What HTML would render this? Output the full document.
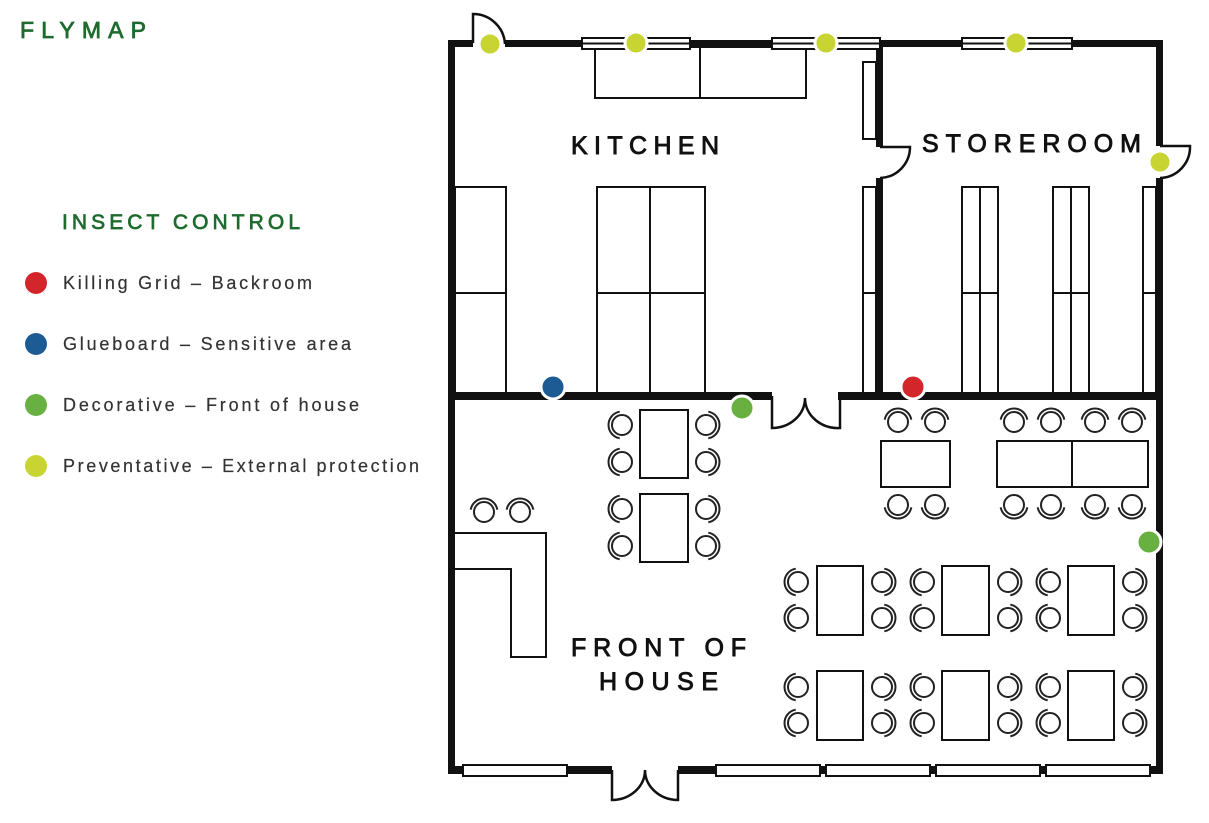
<!DOCTYPE html>
<html><head><meta charset="utf-8"><style>
html,body{margin:0;padding:0;background:#fff;}
svg{display:block;font-family:"Liberation Sans",sans-serif;}
</style></head><body>
<svg width="1209" height="823" viewBox="0 0 1209 823" xmlns="http://www.w3.org/2000/svg">
<defs>
<g id="ch"><circle r="10" fill="#fff" stroke="#222" stroke-width="2"/><path d="M -2.3 -13.3 A 13.5 13.5 0 0 0 -2.3 13.3" fill="none" stroke="#222" stroke-width="2"/></g>
</defs>
<rect width="1209" height="823" fill="#fff"/>
<!-- legend -->
<text x="20" y="38" font-size="23" fill="#1e6b2e" stroke="#1e6b2e" stroke-width="0.8" textLength="126" lengthAdjust="spacing">FLYMAP</text>
<text x="62" y="229" font-size="21" fill="#1e6b2e" stroke="#1e6b2e" stroke-width="0.7" textLength="238" lengthAdjust="spacing">INSECT CONTROL</text>
<g font-size="18" fill="#333" stroke="#333" stroke-width="0.2">
<circle cx="36" cy="283" r="11" fill="#d3262b" stroke="none"/><text x="63" y="289" textLength="249" lengthAdjust="spacing">Killing Grid – Backroom</text>
<circle cx="36" cy="344" r="11" fill="#1c5b94" stroke="none"/><text x="63" y="350" textLength="288" lengthAdjust="spacing">Glueboard – Sensitive area</text>
<circle cx="36" cy="405" r="11" fill="#69b043" stroke="none"/><text x="63" y="411" textLength="296" lengthAdjust="spacing">Decorative – Front of house</text>
<circle cx="36" cy="466" r="11" fill="#c7d431" stroke="none"/><text x="63" y="472" textLength="356" lengthAdjust="spacing">Preventative – External protection</text>
</g>
<g fill="none" stroke="#111" stroke-width="2">
<rect x="595" y="47" width="211" height="51"/><line x1="700" y1="47" x2="700" y2="98"/>
<rect x="455" y="187" width="51" height="206"/><line x1="455" y1="293" x2="506" y2="293"/>
<rect x="597" y="187" width="108" height="206"/><line x1="650" y1="187" x2="650" y2="393"/><line x1="597" y1="293" x2="705" y2="293"/>
<rect x="863" y="62" width="13" height="77"/>
<rect x="863" y="187" width="13" height="206"/><line x1="863" y1="293" x2="876" y2="293"/>
<rect x="962" y="187" width="36" height="206"/><line x1="980" y1="187" x2="980" y2="393"/><line x1="962" y1="293" x2="998" y2="293"/>
<rect x="1053" y="187" width="36" height="206"/><line x1="1071" y1="187" x2="1071" y2="393"/><line x1="1053" y1="293" x2="1089" y2="293"/>
<rect x="1143" y="187" width="13" height="206"/><line x1="1143" y1="293" x2="1156" y2="293"/>
<polyline points="455,533 546,533 546,657 511,657 511,569 455,569"/>
<rect x="640" y="410" width="48" height="68"/><rect x="640" y="494" width="48" height="68"/>
<rect x="881" y="441" width="69" height="46"/>
<rect x="997" y="441" width="151" height="46"/><line x1="1072" y1="441" x2="1072" y2="487"/>
<rect x="817" y="566" width="46" height="69"/><rect x="942" y="566" width="47" height="69"/><rect x="1068" y="566" width="46" height="69"/>
<rect x="817" y="671" width="46" height="69"/><rect x="942" y="671" width="47" height="69"/><rect x="1068" y="671" width="46" height="69"/>
</g>
<g>
<use href="#ch" transform="translate(484,512) rotate(90)"/><use href="#ch" transform="translate(520,512) rotate(90)"/>
<use href="#ch" transform="translate(622,425)"/><use href="#ch" transform="translate(622,462)"/><use href="#ch" transform="translate(622,509)"/><use href="#ch" transform="translate(622,546)"/>
<use href="#ch" transform="translate(706,425) rotate(180)"/><use href="#ch" transform="translate(706,462) rotate(180)"/><use href="#ch" transform="translate(706,509) rotate(180)"/><use href="#ch" transform="translate(706,546) rotate(180)"/>
<use href="#ch" transform="translate(898,422) rotate(90)"/><use href="#ch" transform="translate(935,422) rotate(90)"/>
<use href="#ch" transform="translate(898,505) rotate(-90)"/><use href="#ch" transform="translate(935,505) rotate(-90)"/>
<use href="#ch" transform="translate(1014,422) rotate(90)"/><use href="#ch" transform="translate(1051,422) rotate(90)"/><use href="#ch" transform="translate(1095,422) rotate(90)"/><use href="#ch" transform="translate(1132,422) rotate(90)"/>
<use href="#ch" transform="translate(1014,505) rotate(-90)"/><use href="#ch" transform="translate(1051,505) rotate(-90)"/><use href="#ch" transform="translate(1095,505) rotate(-90)"/><use href="#ch" transform="translate(1132,505) rotate(-90)"/>
<use href="#ch" transform="translate(798,582)"/><use href="#ch" transform="translate(798,618)"/><use href="#ch" transform="translate(798,687)"/><use href="#ch" transform="translate(798,723)"/>
<use href="#ch" transform="translate(882,582) rotate(180)"/><use href="#ch" transform="translate(882,618) rotate(180)"/><use href="#ch" transform="translate(882,687) rotate(180)"/><use href="#ch" transform="translate(882,723) rotate(180)"/>
<use href="#ch" transform="translate(924,582)"/><use href="#ch" transform="translate(924,618)"/><use href="#ch" transform="translate(924,687)"/><use href="#ch" transform="translate(924,723)"/>
<use href="#ch" transform="translate(1008,582) rotate(180)"/><use href="#ch" transform="translate(1008,618) rotate(180)"/><use href="#ch" transform="translate(1008,687) rotate(180)"/><use href="#ch" transform="translate(1008,723) rotate(180)"/>
<use href="#ch" transform="translate(1050,582)"/><use href="#ch" transform="translate(1050,618)"/><use href="#ch" transform="translate(1050,687)"/><use href="#ch" transform="translate(1050,723)"/>
<use href="#ch" transform="translate(1133,582) rotate(180)"/><use href="#ch" transform="translate(1133,618) rotate(180)"/><use href="#ch" transform="translate(1133,687) rotate(180)"/><use href="#ch" transform="translate(1133,723) rotate(180)"/>
</g>
<g fill="#111">
<rect x="448" y="40" width="25" height="7"/>
<rect x="505" y="40" width="77" height="7"/>
<rect x="690" y="40" width="82" height="7"/>
<rect x="880" y="40" width="82" height="7"/>
<rect x="1072" y="40" width="91" height="7"/>
<rect x="448" y="40" width="7" height="734"/>
<rect x="1156" y="40" width="7" height="106"/>
<rect x="1156" y="178" width="7" height="596"/>
<rect x="876" y="40" width="7" height="107"/>
<rect x="876" y="178" width="7" height="222"/>
<rect x="448" y="392" width="324" height="8"/>
<rect x="838" y="392" width="325" height="8"/>
<rect x="448" y="766" width="15" height="8"/>
<rect x="567" y="766" width="45" height="8"/>
<rect x="678" y="766" width="38" height="8"/>
<rect x="820" y="766" width="6" height="8"/>
<rect x="930" y="766" width="6" height="8"/>
<rect x="1040" y="766" width="6" height="8"/>
<rect x="1150" y="766" width="13" height="8"/>
</g>
<g fill="#fff" stroke="#111" stroke-width="2">
<rect x="582" y="38" width="108" height="11"/><rect x="772" y="38" width="108" height="11"/><rect x="962" y="38" width="110" height="11"/>
<rect x="463" y="765" width="104" height="11"/><rect x="716" y="765" width="104" height="11"/><rect x="826" y="765" width="104" height="11"/><rect x="936" y="765" width="104" height="11"/><rect x="1046" y="765" width="104" height="11"/>
</g>
<g stroke="#111" stroke-width="2"><line x1="582" y1="43.5" x2="690" y2="43.5"/><line x1="772" y1="43.5" x2="880" y2="43.5"/><line x1="962" y1="43.5" x2="1072" y2="43.5"/></g>
<g fill="none" stroke="#111" stroke-width="2.5">
<path d="M473 43 L473 14 A32 32 0 0 1 505 44"/>
<path d="M880 147 L910 147 A31 31 0 0 1 880 178"/>
<path d="M1160 146 L1190 146 A31 31 0 0 1 1160 178"/>
<path d="M772 396 L772 428 A33 30 0 0 0 805 398 A33 30 0 0 0 840 428 L840 396"/>
<path d="M612 770 L612 800 A33 30 0 0 0 645 770 A33 30 0 0 0 678 800 L678 770"/>
</g>
<g font-size="25" fill="#111" stroke="#111" stroke-width="0.9">
<text x="571" y="154" textLength="148" lengthAdjust="spacing">KITCHEN</text>
<text x="922" y="152" textLength="219" lengthAdjust="spacing">STOREROOM</text>
<text x="571" y="656" textLength="175" lengthAdjust="spacing">FRONT OF</text>
<text x="599" y="690" textLength="119" lengthAdjust="spacing">HOUSE</text>
</g>
<g stroke="#fff" stroke-width="3">
<circle cx="490" cy="44" r="11" fill="#c7d431"/>
<circle cx="636" cy="43" r="11" fill="#c7d431"/>
<circle cx="826" cy="43" r="11" fill="#c7d431"/>
<circle cx="1016" cy="43" r="11" fill="#c7d431"/>
<circle cx="1160" cy="162" r="11" fill="#c7d431"/>
<circle cx="553" cy="387" r="12" fill="#1c5b94"/>
<circle cx="742" cy="408" r="12" fill="#69b043"/>
<circle cx="913" cy="387" r="12" fill="#d3262b"/>
<circle cx="1149" cy="542" r="12" fill="#69b043"/>
</g>
</svg>
</body></html>
